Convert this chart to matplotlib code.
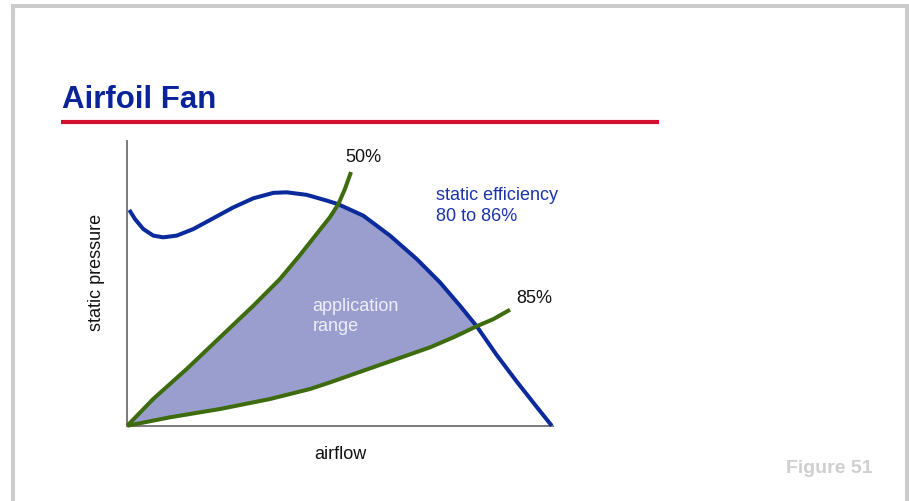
import matplotlib
matplotlib.use("Agg")
import matplotlib.pyplot as plt

# ---- data (arbitrary units 0-100) ----
fan_x = [0.54, 1.88, 3.83, 6.17, 8.52, 11.67, 15.56, 20.26, 24.95, 29.65, 34.34, 37.49,
         42.18, 46.88, 49.6, 55.47, 61.74, 68.0, 73.47, 78.17, 82.09, 86.78, 91.48, 96.17, 99.7]
fan_y = [75.8, 72.6, 69.1, 66.8, 66.2, 66.8, 69.1, 72.9, 76.7, 79.9, 81.8, 82.0,
         81.1, 79.1, 77.8, 73.8, 66.8, 58.6, 50.4, 42.2, 35.0, 24.9, 15.6, 6.7, 0.1]

eff50_x = [0.07, 6.17, 14.01, 21.83, 29.65, 35.92, 40.61, 44.53, 47.65, 49.6, 51.17, 52.58]
eff50_y = [0.1, 9.5, 20.0, 31.1, 42.2, 51.6, 60.0, 67.4, 73.3, 77.8, 83.2, 89.1]

eff85_x = [0.07, 10.09, 21.83, 33.57, 42.96, 47.65, 55.47, 63.31, 71.13, 76.6, 82.09, 86.0, 89.9]
eff85_y = [0.1, 3.05, 5.96, 9.47, 12.98, 15.3, 19.4, 23.5, 27.6, 31.1, 35.0, 37.5, 40.8]

i50 = 9      # 50% line meets the fan curve
ifan50 = 14
ifan85 = 20  # 85% line meets the fan curve
i85 = 10

BLUE = "#0b2a9c"
GREEN = "#3e6b0e"
FILL = "#9a9ecf"
FONT = ["Liberation Sans", "DejaVu Sans"]

plt.rcParams["font.family"] = FONT

W, H = 909, 502
fig = plt.figure(figsize=(W / 100, H / 100), dpi=100)

# background axes in pixel coordinates
bg = fig.add_axes([0, 0, 1, 1])
bg.set_xlim(0, W)
bg.set_ylim(H, 0)
bg.axis("off")
GRAY = "#cccccc"
bg.plot([12.5, 12.5, 906.5, 906.5], [H, 6.5, 6.5, H], color=GRAY, lw=2.9,
        solid_joinstyle="miter", solid_capstyle="butt")
bg.text(62, 108, "Airfoil Fan", fontsize=22.5, fontweight="bold", color="#0a2399",
        ha="left", va="baseline")
bg.plot([61, 659], [122.5, 122.5], color="#d4102f", lw=3.0, solid_capstyle="butt")
bg.text(873, 473, "Figure 51", fontsize=14, fontweight="bold", color="#cfcfcf",
        ha="right", va="baseline")

# main axes
x0, x1, y0, y1 = 127, 553, 142, 427
ax = fig.add_axes([x0 / W, 1 - y1 / H, (x1 - x0) / W, (y1 - y0) / H])
ax.set_xlim(0, 100)
ax.set_ylim(0, 100)
ax.patch.set_alpha(0)
for s in ["top", "right"]:
    ax.spines[s].set_visible(False)
for s in ["left", "bottom"]:
    ax.spines[s].set_color("#707070")
    ax.spines[s].set_linewidth(1.3)
ax.set_xticks([])
ax.set_yticks([])

# application range fill
px = list(eff50_x[:i50 + 1]) + list(fan_x[ifan50:ifan85 + 1]) + list(eff85_x[:i85 + 1])[::-1]
py = list(eff50_y[:i50 + 1]) + list(fan_y[ifan50:ifan85 + 1]) + list(eff85_y[:i85 + 1])[::-1]
ax.fill(px, py, color=FILL, lw=0, zorder=1)

ax.plot(fan_x, fan_y, color=BLUE, lw=2.9, zorder=3, clip_on=False,
        solid_capstyle="butt", solid_joinstyle="round")
ax.plot(eff50_x, eff50_y, color=GREEN, lw=2.9, zorder=4, clip_on=False,
        solid_capstyle="butt", solid_joinstyle="round")
ax.plot(eff85_x, eff85_y, color=GREEN, lw=2.9, zorder=4, clip_on=False,
        solid_capstyle="butt", solid_joinstyle="round")

ax.text(55.5, 94.5, "50%", fontsize=13, color="#111111", ha="center", va="center")
ax.text(95.7, 45.0, "85%", fontsize=13, color="#111111", ha="center", va="center")
ax.text(72.5, 77.5, "static efficiency\n80 to 86%", fontsize=13, color="#1a33a8",
        ha="left", va="center", linespacing=1.25)
ax.text(43.5, 38.8, "application\nrange", fontsize=13, color="#eeeef8",
        ha="left", va="center", linespacing=1.25)

ax.set_xlabel("airflow", fontsize=13, color="#111111", labelpad=14)
ax.set_ylabel("static pressure", fontsize=13, color="#111111")
ax.yaxis.set_label_coords(-0.052, 0.544)

fig.savefig("out.png", dpi=100)
